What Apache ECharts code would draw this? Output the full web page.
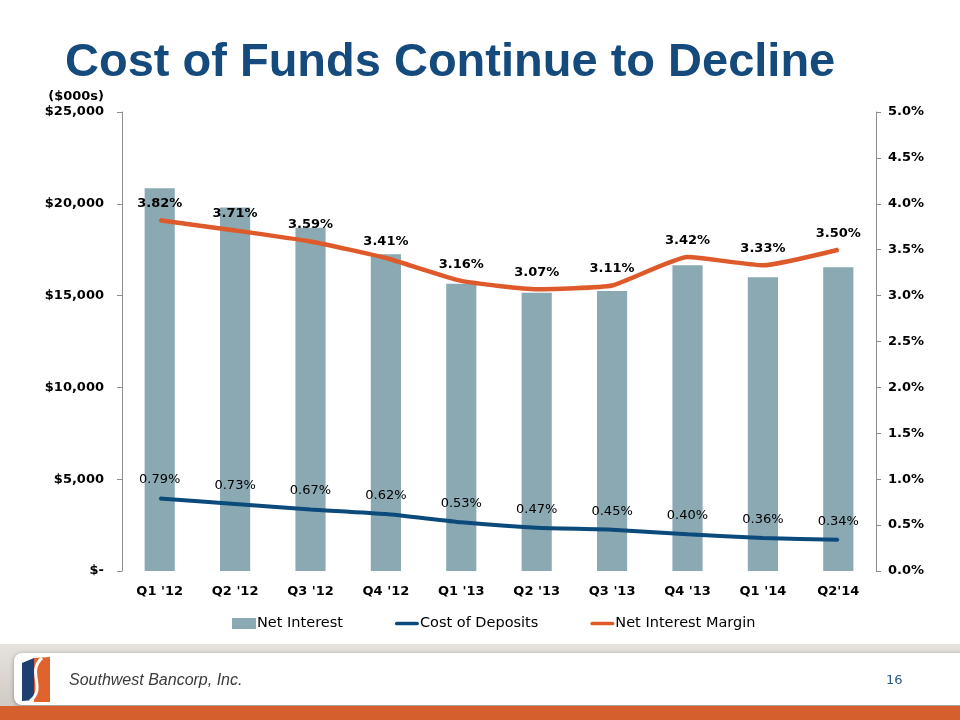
<!DOCTYPE html>
<html><head><meta charset="utf-8">
<script src="https://cdn.jsdelivr.net/npm/echarts@6/dist/echarts.min.js"></script>
<style>html,body{margin:0;padding:0;background:#fff}#c{width:960px;height:720px}</style>
</head><body><div id="c"></div>
<script>
const categories = ["Q1 '12","Q2 '12","Q3 '12","Q4 '12","Q1 '13","Q2 '13","Q3 '13","Q4 '13","Q1 '14","Q2'14"];
const netInterest = [20850, 19800, 18700, 17250, 15650, 15150, 15250, 16650, 16000, 16550];
const costOfDeposits = [0.79, 0.73, 0.67, 0.62, 0.53, 0.47, 0.45, 0.40, 0.36, 0.34];
const netInterestMargin = [3.82, 3.71, 3.59, 3.41, 3.16, 3.07, 3.11, 3.42, 3.33, 3.50];
const leftTicks = {min: 0, max: 25000, interval: 5000};
const rightTicks = {min: 0, max: 5, interval: 0.5};

const chart = echarts.init(document.getElementById('c'), null, {renderer: 'canvas'});
const font = 'DejaVu Sans';
const lineIcon = 'path://M2,0 L24,0 A2,2 0 0 1 24,4 L2,4 A2,2 0 0 1 2,0 Z';
chart.setOption({
  animation: false,
  backgroundColor: '#ffffff',
  title: {
    text: 'Cost of Funds Continue to Decline',
    left: 60, top: 35,
    textStyle: {fontFamily: 'Liberation Sans', fontWeight: 'bold', fontSize: 47, color: '#144a7c'}
  },
  grid: {left: 122, right: 84, top: 112, bottom: 149, containLabel: false},
  legend: {
    bottom: 84, left: 227,
    itemGap: 52, itemWidth: 24, itemHeight: 11,
    textStyle: {fontFamily: font, fontSize: 14.5, color: '#000', padding: [0,0,0,-4]},
    data: [
      {name: 'Net Interest', icon: 'rect'},
      {name: 'Cost of Deposits', icon: lineIcon, itemStyle: {color: '#0b4a7b'}},
      {name: 'Net Interest Margin', icon: lineIcon, itemStyle: {color: '#df5a2b'}}
    ]
  },
  xAxis: {
    type: 'category', data: categories,
    axisLine: {show: false}, axisTick: {show: false},
    axisLabel: {fontFamily: font, fontWeight: 'bold', fontSize: 13, color: '#000', margin: 14}
  },
  yAxis: [
    {
      type: 'value', min: leftTicks.min, max: leftTicks.max, interval: leftTicks.interval,
      name: '($000s)', nameLocation: 'end', nameGap: 9,
      nameTextStyle: {fontFamily: font, fontWeight: 'bold', fontSize: 13, color: '#000', align: 'right', padding: [0, 18, 0, 0]},
      axisLine: {show: true, lineStyle: {color: '#8c8c8c'}},
      axisTick: {show: true, length: 5, lineStyle: {color: '#8c8c8c'}},
      splitLine: {show: false},
      axisLabel: {fontFamily: font, fontWeight: 'bold', fontSize: 13, color: '#000', margin: 18,
        formatter: v => v === 0 ? '$-' : '$' + v.toLocaleString('en-US')}
    },
    {
      type: 'value', min: rightTicks.min, max: rightTicks.max, interval: rightTicks.interval,
      position: 'right',
      axisLine: {show: true, lineStyle: {color: '#8c8c8c'}},
      axisTick: {show: true, length: 5, lineStyle: {color: '#8c8c8c'}},
      splitLine: {show: false},
      axisLabel: {fontFamily: font, fontWeight: 'bold', fontSize: 13, color: '#000', margin: 12,
        formatter: v => v.toFixed(1) + '%'}
    }
  ],
  series: [
    {
      name: 'Net Interest', type: 'bar', data: netInterest, barWidth: '40%',
      itemStyle: {color: '#8aa9b2'}
    },
    {
      name: 'Cost of Deposits', type: 'line', yAxisIndex: 1, data: costOfDeposits,
      smooth: 0.15, symbol: 'circle', symbolSize: 2, showSymbol: true,
      lineStyle: {width: 4, color: '#0b4a7b'}, itemStyle: {color: '#0b4a7b'},
      label: {show: true, position: 'top', distance: 11, fontFamily: font, fontSize: 13, color: '#000',
        formatter: p => p.value.toFixed(2) + '%'}
    },
    {
      name: 'Net Interest Margin', type: 'line', yAxisIndex: 1, data: netInterestMargin,
      smooth: 0.15, symbol: 'circle', symbolSize: 2, showSymbol: true,
      lineStyle: {width: 4.5, color: '#df5a2b'}, itemStyle: {color: '#df5a2b'},
      label: {show: true, position: 'top', distance: 9, fontFamily: font, fontWeight: 'bold', fontSize: 13, color: '#000',
        formatter: p => p.value.toFixed(2) + '%'}
    }
  ],
  graphic: [
    {type: 'rect', shape: {x: 0, y: 644, width: 960, height: 66},
      style: {fill: new echarts.graphic.LinearGradient(0, 0, 0, 1, [{offset: 0, color: '#e6e2de'}, {offset: 1, color: '#cfc9c3'}])}, z: -1},
    {type: 'rect', shape: {x: 14, y: 653, width: 960, height: 52, r: 8},
      style: {fill: '#ffffff', shadowBlur: 4, shadowColor: 'rgba(0,0,0,0.35)', shadowOffsetY: 1}, z: 0},
    {type: 'rect', shape: {x: 0, y: 706, width: 960, height: 14}, style: {fill: '#d65f2e'}, z: 0},
    {type: 'polygon', shape: {points: [[22, 663], [34, 658], [34, 700], [22, 701]]}, style: {fill: '#1f3f70'}, z: 1},
    {type: 'polygon', shape: {points: [[34, 658], [50, 657], [50, 702], [34, 702]]}, style: {fill: '#e0622c'}, z: 1},
    {type: 'bezierCurve', shape: {x1: 42, y1: 658, x2: 30, y2: 701, cpx1: 26, cpy1: 672, cpx2: 47, cpy2: 688},
      style: {stroke: '#ffffff', lineWidth: 3, fill: null}, z: 2},
    {type: 'text', left: 69, top: 673, style: {text: 'Southwest Bancorp, Inc.', font: 'italic 16px "Liberation Sans"', fill: '#3b3b3b'}, z: 2},
    {type: 'text', left: 886, top: 674, style: {text: '16', font: '13px "DejaVu Sans"', fill: '#2a5a8a'}, z: 2}
  ]
});
</script></body></html>
